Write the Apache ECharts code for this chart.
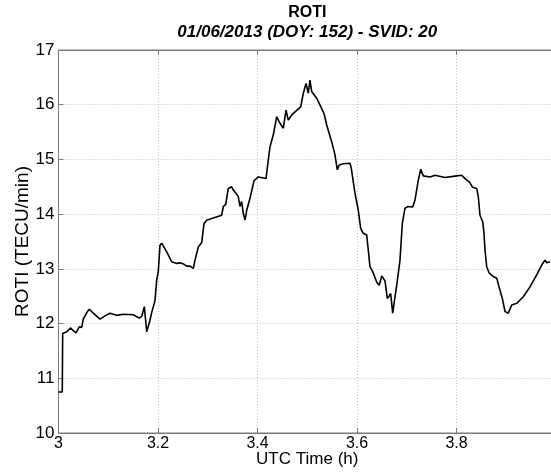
<!DOCTYPE html>
<html>
<head>
<meta charset="utf-8">
<script src="https://cdn.jsdelivr.net/npm/echarts@6/dist/echarts.min.js"></script>
<style>
  html, body { margin: 0; padding: 0; background: #fff; }
  #chart { width: 551px; height: 472px; }
</style>
</head>
<body>
<div id="chart"></div>
<script>
// Rate of TEC index (ROTI) for one satellite pass
const utcTime = [
  3.000, 3.0076, 3.0084, 3.0165, 3.0200, 3.0245, 3.0297, 3.0352, 3.0418, 3.0466,
  3.0498, 3.0567, 3.0619, 3.0699, 3.0834, 3.0935, 3.1035, 3.1170, 3.1302, 3.1503,
  3.1624, 3.1672, 3.1725, 3.1773, 3.1805, 3.1839, 3.1873, 3.1940, 3.1974, 3.2006,
  3.2040, 3.2074, 3.2107, 3.2175, 3.2275, 3.2376, 3.2442, 3.2509, 3.2577, 3.2643,
  3.2710, 3.2744, 3.2810, 3.2878, 3.2925, 3.2979, 3.3112, 3.3280, 3.3313, 3.3361,
  3.3413, 3.3481, 3.3514, 3.3568, 3.3614, 3.3648, 3.3682, 3.3715, 3.3749, 3.3783,
  3.3849, 3.3930, 3.4016, 3.4171, 3.4217, 3.4251, 3.4318, 3.4386, 3.4452, 3.4519,
  3.4573, 3.4619, 3.4687, 3.4754, 3.4868, 3.4921, 3.4975, 3.5021, 3.5055, 3.5089,
  3.5122, 3.5190, 3.5290, 3.5337, 3.5391, 3.5492, 3.5558, 3.5604, 3.5644, 3.5725,
  3.5859, 3.5883, 3.5960, 3.6026, 3.6074, 3.6127, 3.6195, 3.6227, 3.6261, 3.6316,
  3.6396, 3.6448, 3.6496, 3.6529, 3.6563, 3.6609, 3.6643, 3.6677, 3.6717, 3.6750,
  3.6798, 3.6864, 3.6911, 3.6965, 3.7031, 3.7120, 3.7166, 3.7232, 3.7281, 3.7333,
  3.7467, 3.7568, 3.7769, 3.8004, 3.8105, 3.8171, 3.8257, 3.8326, 3.8406, 3.8438,
  3.8472, 3.8527, 3.8553, 3.8573, 3.8607, 3.8659, 3.8740, 3.8808, 3.8874, 3.8929,
  3.8975, 3.9041, 3.9110, 3.9210, 3.9343, 3.9477, 3.9612, 3.9712, 3.9779, 3.9813,
  3.9879
];
const roti = [
  10.75, 10.75, 11.82, 11.85, 11.82, 11.92, 11.87, 11.83, 11.94, 11.93,
  12.08, 12.20, 12.26, 12.19, 12.08, 12.14, 12.19, 12.15, 12.17, 12.16,
  12.10, 12.13, 12.31, 11.85, 11.88, 12.06, 12.20, 12.42, 12.80, 12.95,
  13.43, 13.47, 13.45, 13.31, 13.13, 13.10, 13.11, 13.09, 13.05, 13.05,
  13.01, 13.16, 13.40, 13.48, 13.83, 13.89, 13.93, 13.98, 14.14, 14.18,
  14.47, 14.50, 14.44, 14.38, 14.32, 14.14, 14.23, 14.01, 13.89, 14.07,
  14.29, 14.61, 14.68, 14.65, 14.99, 15.23, 15.45, 15.78, 15.66, 15.57,
  15.90, 15.72, 15.81, 15.87, 15.96, 16.21, 16.39, 16.21, 16.45, 16.24,
  16.21, 16.12, 15.93, 15.84, 15.63, 15.32, 15.08, 14.81, 14.90, 14.92,
  14.93, 14.85, 14.38, 14.07, 13.74, 13.65, 13.62, 13.34, 13.04, 12.95,
  12.76, 12.70, 12.87, 12.89, 12.78, 12.46, 12.50, 12.55, 12.19, 12.40,
  12.70, 13.16, 13.83, 14.11, 14.14, 14.13, 14.26, 14.62, 14.82, 14.70,
  14.68, 14.71, 14.67, 14.70, 14.71, 14.65, 14.59, 14.49, 14.47, 14.32,
  13.98, 13.86, 13.65, 13.34, 13.04, 12.92, 12.86, 12.83, 12.61, 12.43,
  12.22, 12.19, 12.34, 12.37, 12.49, 12.67, 12.89, 13.07, 13.16, 13.11,
  13.13
];

const xRange = [3, 4];
const yRange = [10, 17];
const xStep = 0.2;
const yStep = 1;

const titleText = 'ROTI';
const subtitleText = '01/06/2013 (DOY: 152) - SVID: 20';
const xName = 'UTC Time (h)';
const yName = 'ROTI (TECU/min)';

const FONT = '"Liberation Sans", Arial, sans-serif';
const frameColor = '#7a7a7a';
const gridStyle = { color: '#c4c4c4', type: [1, 2], width: 1 };

const chart = echarts.init(document.getElementById('chart'));

// plot box runs past the right edge of the page (x = 4 sits just outside)
const plotLeft = 58.5, plotWidth = 497.5;
const plotCenter = plotLeft + plotWidth / 2;

chart.setOption({
  animation: false,
  backgroundColor: '#fff',
  grid: {
    left: plotLeft, width: plotWidth, top: 50, height: 383,
    outerBoundsMode: 'none', containLabel: false,
    show: true, borderColor: frameColor, borderWidth: 1, backgroundColor: '#fff'
  },
  graphic: [
    {
      type: 'text', x: plotCenter, y: 13,
      style: { text: titleText, font: 'bold 16px ' + FONT, fill: '#000', textAlign: 'center', textVerticalAlign: 'middle' }
    },
    {
      type: 'text', x: plotCenter, y: 32,
      style: { text: subtitleText, font: 'italic bold 17px ' + FONT, fill: '#000', textAlign: 'center', textVerticalAlign: 'middle' }
    }
  ],
  xAxis: [
    {
      type: 'value', min: xRange[0], max: xRange[1], interval: xStep,
      name: xName, nameLocation: 'middle', nameGap: 18, nameMoveOverlap: false,
      nameTextStyle: { fontFamily: FONT, fontSize: 17, color: '#000' },
      axisLine: { show: true, onZero: false, lineStyle: { color: frameColor } },
      axisTick: { show: true, inside: true, length: 5, lineStyle: { color: frameColor } },
      axisLabel: {
        fontFamily: FONT, fontSize: 16, color: '#000', margin: 3,
        formatter: v => (v === xRange[1] ? '' : String(+v.toFixed(1)))
      },
      splitLine: { show: true, lineStyle: gridStyle }
    },
    {
      type: 'value', position: 'top', min: xRange[0], max: xRange[1], interval: xStep,
      axisLine: { show: true, lineStyle: { color: frameColor } },
      axisTick: { show: true, inside: true, length: 5, lineStyle: { color: frameColor } },
      axisLabel: { show: false },
      splitLine: { show: false }
    }
  ],
  yAxis: {
    type: 'value', min: yRange[0], max: yRange[1], interval: yStep,
    name: yName, nameLocation: 'middle', nameGap: 26, nameRotate: 90, nameMoveOverlap: false,
    nameTextStyle: { fontFamily: FONT, fontSize: 19, color: '#000' },
    axisLine: { show: true, onZero: false, lineStyle: { color: frameColor } },
    axisTick: { show: true, inside: true, length: 5, lineStyle: { color: frameColor } },
    axisLabel: { fontFamily: FONT, fontSize: 17, color: '#000', margin: 4 },
    splitLine: { show: true, lineStyle: gridStyle }
  },
  series: [{
    type: 'line',
    xAxisIndex: 0,
    data: utcTime.map((t, i) => [t, roti[i]]),
    showSymbol: false,
    lineStyle: { color: '#000', width: 1.6 },
    clip: true
  }]
});
</script>
</body>
</html>
